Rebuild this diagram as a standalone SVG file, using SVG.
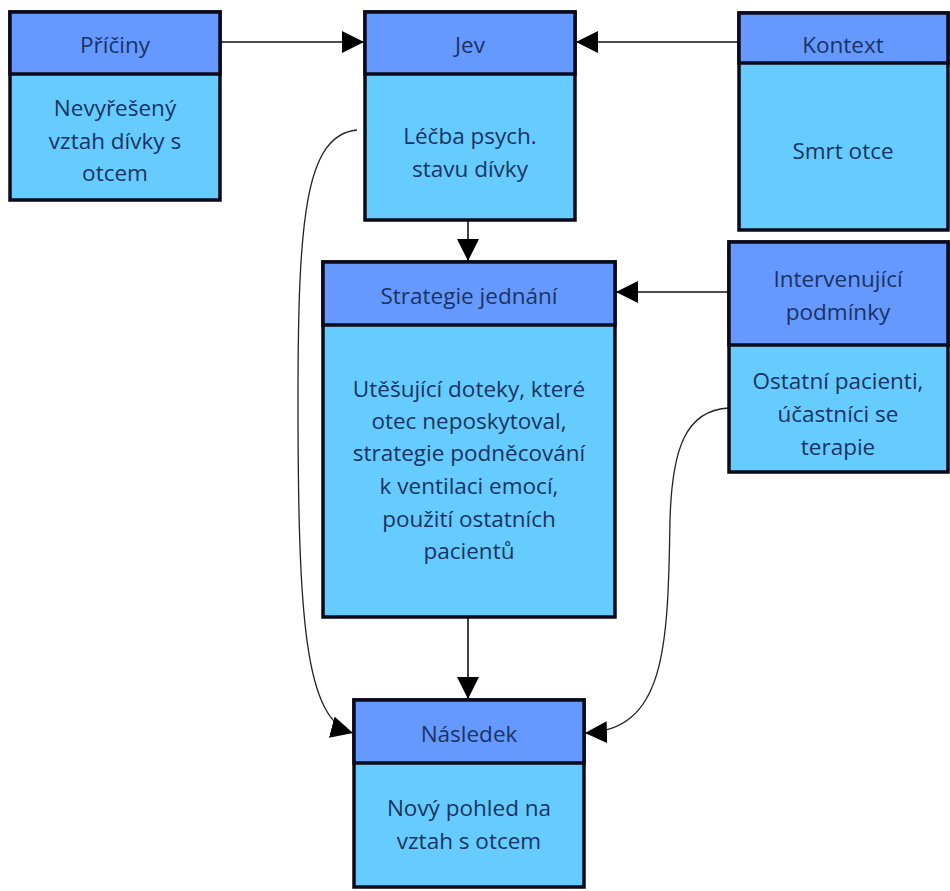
<svg xmlns="http://www.w3.org/2000/svg" width="950" height="891" viewBox="0 0 950 891">
<defs>
<style>
.hd{fill:#6699ff;stroke:#0a0a1a;stroke-width:3.5}
.bd{fill:#66ccff;stroke:#0a0a1a;stroke-width:3.5}
text{font-family:"Open Sans","Noto Sans","Liberation Sans",sans-serif;font-size:22.5px;fill:#193362;text-anchor:middle;dominant-baseline:central}
.c{fill:none;stroke:#111;stroke-width:1.6}
.cs{fill:none;stroke:#222;stroke-width:1.3}
</style>
<marker id="ah" viewBox="0 0 10 10" refX="10" refY="5" markerWidth="22" markerHeight="22" markerUnits="userSpaceOnUse" orient="auto">
<path d="M0,0 L10,5 L0,10 Z" fill="#000"/>
</marker>
</defs>
<rect width="950" height="891" fill="#fff"/>
<g id="connectors">
<line class="c" x1="220" y1="42" x2="364" y2="42" marker-end="url(#ah)"/>
<line class="c" x1="739" y1="42" x2="576" y2="42" marker-end="url(#ah)"/>
<line class="c" x1="468" y1="220" x2="468" y2="261" marker-end="url(#ah)"/>
<line class="c" x1="729" y1="292" x2="616" y2="292" marker-end="url(#ah)"/>
<line class="c" x1="468" y1="617" x2="468" y2="699" marker-end="url(#ah)"/>
<path class="cs" d="M357,130 C305,135 298,220 298,400 C298,620 305,720 353,733" marker-end="url(#ah)"/>
<path class="cs" d="M729,408 C685,410 672,450 670,520 C668,650 665,730 585,733" marker-end="url(#ah)"/>
</g>
<g id="priciny">
<rect class="bd" x="10" y="12" width="210" height="188"/>
<rect class="hd" x="10" y="12" width="210" height="62"/>
<text x="115" y="44">Příčiny</text>
<text x="115" y="107">Nevyřešený</text>
<text x="115" y="140">vztah dívky s</text>
<text x="115" y="172">otcem</text>
</g>
<g id="jev">
<rect class="bd" x="365" y="12" width="210" height="208"/>
<rect class="hd" x="365" y="12" width="210" height="62"/>
<text x="470" y="44">Jev</text>
<text x="470" y="135">Léčba psych.</text>
<text x="470" y="168">stavu dívky</text>
</g>
<g id="kontext">
<rect class="bd" x="739" y="13" width="209" height="217"/>
<rect class="hd" x="739" y="13" width="209" height="50"/>
<text x="843" y="44">Kontext</text>
<text x="843" y="150">Smrt otce</text>
</g>
<g id="strategie">
<rect class="bd" x="323" y="262" width="292" height="355"/>
<rect class="hd" x="323" y="262" width="292" height="63"/>
<text x="469" y="295">Strategie jednání</text>
<text x="469" y="388">Utěšující doteky, které</text>
<text x="469" y="420">otec neposkytoval,</text>
<text x="469" y="452">strategie podněcování</text>
<text x="469" y="485">k ventilaci emocí,</text>
<text x="469" y="518">použití ostatních</text>
<text x="469" y="550">pacientů</text>
</g>
<g id="intervenujici">
<rect class="bd" x="729" y="242" width="219" height="230"/>
<rect class="hd" x="729" y="242" width="219" height="103"/>
<text x="838" y="278">Intervenující</text>
<text x="838" y="311">podmínky</text>
<text x="838" y="380">Ostatní pacienti,</text>
<text x="838" y="413">účastníci se</text>
<text x="838" y="446">terapie</text>
</g>
<g id="nasledek">
<rect class="bd" x="354" y="700" width="230" height="187"/>
<rect class="hd" x="354" y="700" width="230" height="63"/>
<text x="469" y="733">Následek</text>
<text x="469" y="807">Nový pohled na</text>
<text x="469" y="840">vztah s otcem</text>
</g>
</svg>
